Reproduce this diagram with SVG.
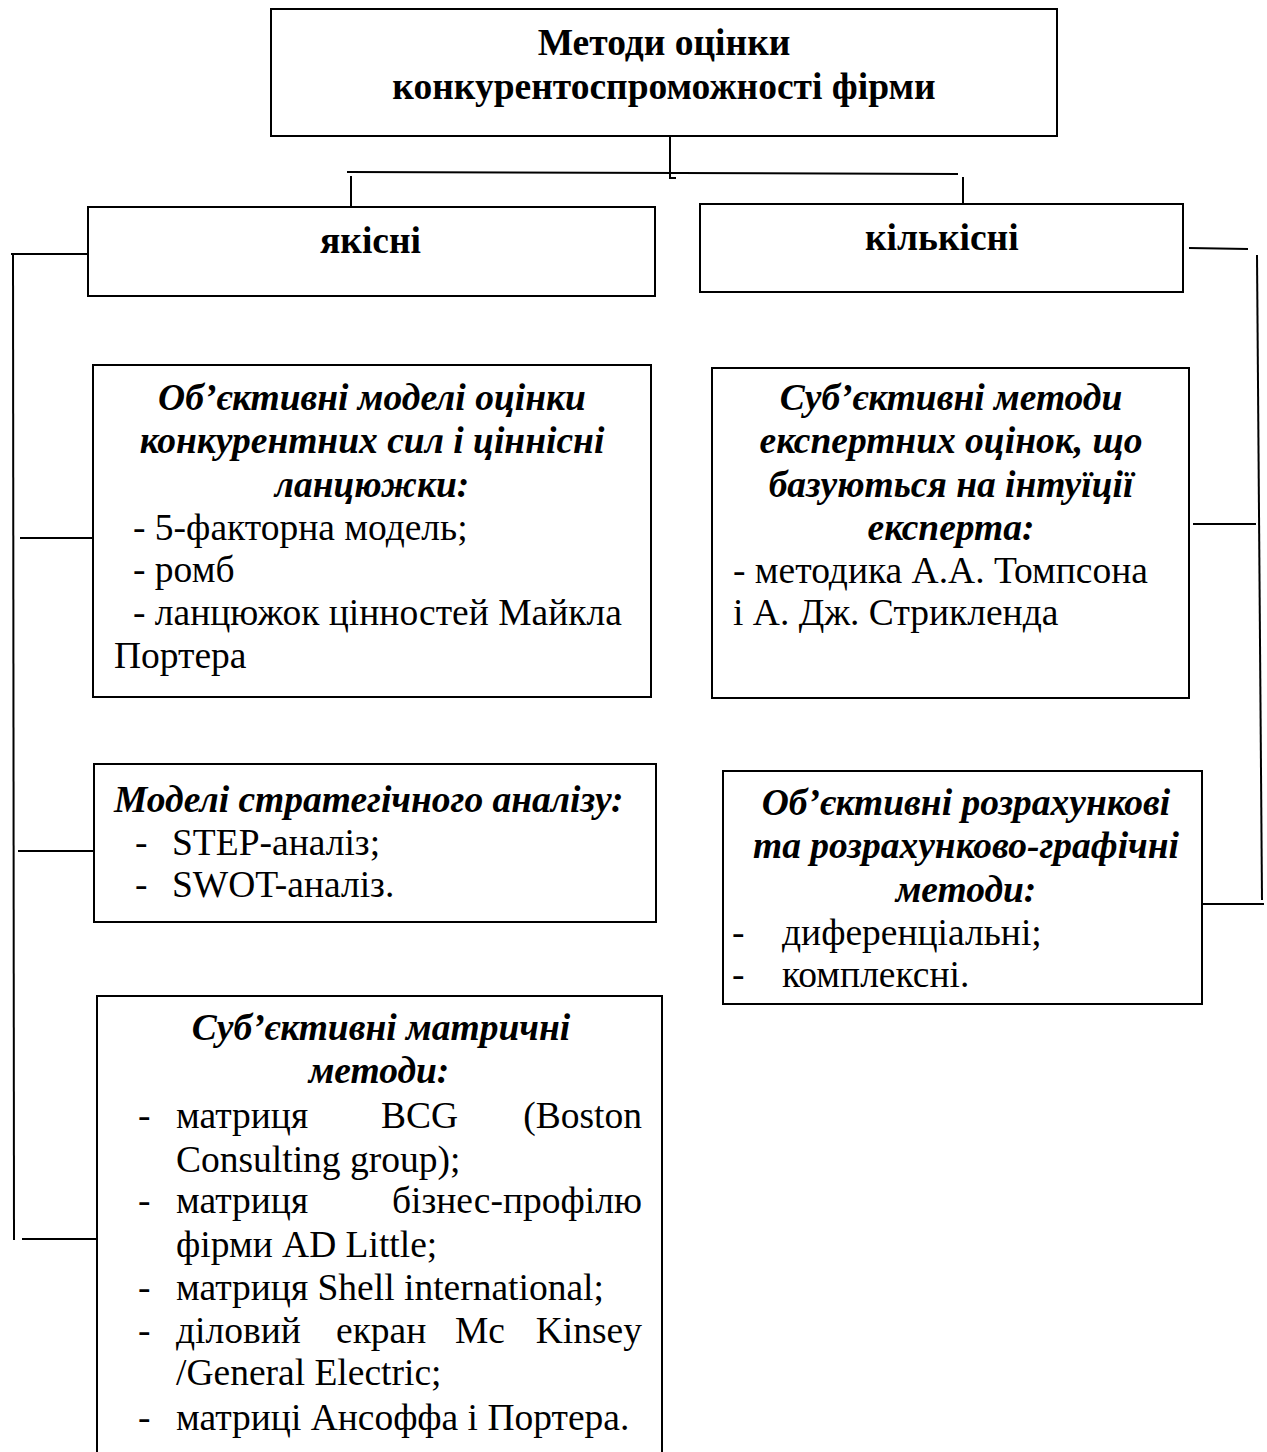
<svg xmlns="http://www.w3.org/2000/svg" width="1267" height="1452" viewBox="0 0 1267 1452">
<style>
.box{fill:#fff;stroke:#000;stroke-width:2}
.ln{fill:none;stroke:#000;stroke-width:2}
.t{font-family:"Liberation Serif","Times New Roman",serif;font-size:37.5px;fill:#000}
.h{font-family:"Liberation Serif","Times New Roman",serif;font-size:37.5px;font-weight:bold;fill:#000}
.bi{font-family:"Liberation Serif","Times New Roman",serif;font-size:37.5px;font-weight:bold;font-style:italic;fill:#000}
.c{text-anchor:middle}
.e{text-anchor:end}
</style>
<rect width="1267" height="1452" fill="#fff"/>
<g id="connectors">
<polyline class="ln" points="670,136 670,178 676,178"/>
<line class="ln" x1="347" y1="172" x2="958" y2="174"/>
<line class="ln" x1="351" y1="176" x2="351" y2="207"/>
<line class="ln" x1="963" y1="177" x2="963" y2="205"/>
<line class="ln" x1="11" y1="254" x2="88" y2="254"/>
<line class="ln" x1="13" y1="254" x2="14" y2="1240"/>
<line class="ln" x1="20" y1="538" x2="93" y2="538"/>
<line class="ln" x1="18" y1="851" x2="93" y2="851"/>
<line class="ln" x1="22" y1="1239" x2="97" y2="1239"/>
<line class="ln" x1="1189" y1="248" x2="1248" y2="249"/>
<line class="ln" x1="1257" y1="255" x2="1262" y2="900"/>
<line class="ln" x1="1193" y1="524" x2="1256" y2="524"/>
<line class="ln" x1="1202" y1="904" x2="1264" y2="904"/>
</g>
<g id="root">
<rect class="box" x="271" y="9" width="786" height="127"/>
<text class="h c" x="664" y="55">Методи оцінки</text>
<text class="h c" x="664" y="99">конкурентоспроможності фірми</text>
</g>
<g id="qualitative">
<rect class="box" x="88" y="207" width="567" height="89"/>
<text class="h" x="320" y="253">якісні</text>
</g>
<g id="quantitative">
<rect class="box" x="700" y="204" width="483" height="88"/>
<text class="h" x="865" y="250">кількісні</text>
</g>
<g id="objective-models">
<rect class="box" x="93" y="365" width="558" height="332"/>
<text class="bi c" x="372" y="410">Об’єктивні моделі оцінки</text>
<text class="bi c" x="372" y="453">конкурентних сил і ціннісні</text>
<text class="bi c" x="372" y="497">ланцюжки:</text>
<text class="t" x="133" y="540">- 5-факторна модель;</text>
<text class="t" x="133" y="582">- ромб</text>
<text class="t" x="133" y="625">- ланцюжок цінностей Майкла</text>
<text class="t" x="114" y="668">Портера</text>
</g>
<g id="strategic-analysis">
<rect class="box" x="94" y="764" width="562" height="158"/>
<text class="bi" x="114" y="812">Моделі стратегічного аналізу:</text>
<text class="t" x="135" y="855">-</text>
<text class="t" x="172" y="855">STEP-аналіз;</text>
<text class="t" x="135" y="897">-</text>
<text class="t" x="172" y="897">SWOT-аналіз.</text>
</g>
<g id="matrix-methods">
<rect class="box" x="97" y="996" width="565" height="470"/>
<text class="bi c" x="381" y="1040">Суб’єктивні матричні</text>
<text class="bi c" x="379" y="1083">методи:</text>
<text class="t" x="138" y="1128">-</text>
<text class="t" x="176" y="1128">матриця</text>
<text class="t" x="381" y="1128">BCG</text>
<text class="t e" x="642" y="1128">(Boston</text>
<text class="t" x="176" y="1172">Consulting group);</text>
<text class="t" x="138" y="1213">-</text>
<text class="t" x="176" y="1213">матриця</text>
<text class="t e" x="642" y="1213">бізнес-профілю</text>
<text class="t" x="176" y="1257">фірми AD Little;</text>
<text class="t" x="138" y="1300">-</text>
<text class="t" x="176" y="1300">матриця Shell international;</text>
<text class="t" x="138" y="1343">-</text>
<text class="t" x="176" y="1343">діловий</text>
<text class="t" x="336" y="1343">екран</text>
<text class="t" x="455" y="1343">Mc</text>
<text class="t e" x="642" y="1343">Kinsey</text>
<text class="t" x="176" y="1385">/General Electric;</text>
<text class="t" x="138" y="1430">-</text>
<text class="t" x="176" y="1430">матриці Ансоффа і Портера.</text>
</g>
<g id="expert-methods">
<rect class="box" x="712" y="368" width="477" height="330"/>
<text class="bi c" x="951" y="410">Суб’єктивні методи</text>
<text class="bi c" x="951" y="453">експертних оцінок, що</text>
<text class="bi c" x="951" y="497">базуються на інтуїції</text>
<text class="bi c" x="951" y="540">експерта:</text>
<text class="t" x="733" y="583">- методика А.А. Томпсона</text>
<text class="t" x="733" y="625">і А. Дж. Стрикленда</text>
</g>
<g id="calculation-methods">
<rect class="box" x="723" y="771" width="479" height="233"/>
<text class="bi c" x="966" y="815">Об’єктивні розрахункові</text>
<text class="bi c" x="966" y="858">та розрахунково-графічні</text>
<text class="bi c" x="966" y="902">методи:</text>
<text class="t" x="732" y="945">-</text>
<text class="t" x="782" y="945">диференціальні;</text>
<text class="t" x="732" y="987">-</text>
<text class="t" x="782" y="987">комплексні.</text>
</g>
</svg>
